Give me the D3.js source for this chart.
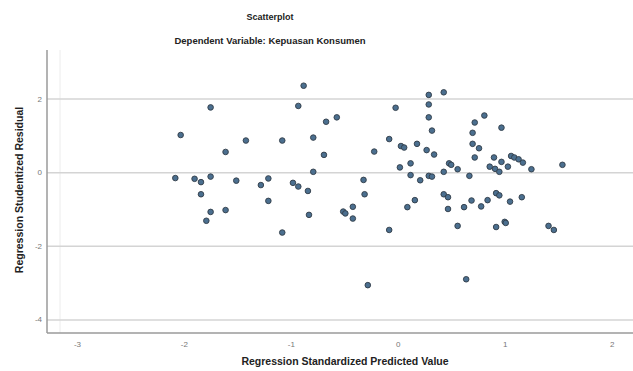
<!DOCTYPE html>
<html>
<head>
<meta charset="utf-8">
<script src="https://cdn.jsdelivr.net/npm/d3@7"></script>
<style>
  body { margin: 0; background: #fff; }
  svg { display: block; font-family: "Liberation Sans", Arial, sans-serif; }
</style>
</head>
<body>
<div id="chart"></div>
<script>
// standardized predicted value (x) and studentized residual (y)
var predicted = [
  -1.75, -2.03, -1.42, -1.08, -1.61, -2.08, -1.90, -1.84, -1.75, -1.51, -1.21, -1.28, -1.84, -1.21, -1.75, -1.61, -1.79, -1.08, -0.98, -0.93, -0.93,
  -0.88, -0.67, -0.57, -0.79, -0.69, -0.79, -0.02, -0.08, 0.03, 0.06, 0.18, -0.22, 0.02, 0.12, 0.12, 0.21, 0.27, 0.29, 0.29, 0.29, -0.32,
  -0.84, -0.83, -0.51, -0.49, -0.42, -0.42, -0.31, -0.28, -0.08, 0.29, 0.16, 0.09,
  0.43, 0.32, 0.34, 0.48, 0.50, 0.56, 0.43, 0.32, 0.67, 0.81, 0.72, 0.70, 0.70, 0.76, 0.72, 0.97, 0.90, 0.86, 0.91, 0.95, 0.97, 1.03, 1.06, 1.09, 1.13, 1.17, 1.25, 1.54,
  0.92, 0.95, 0.84, 0.78, 1.05, 1.16, 0.92, 1.00, 1.01, 1.41, 1.46,
  0.43, 0.47, 0.47, 0.62, 0.69, 0.56, 0.64
];
var residual = [
  1.76, 1.01, 0.86, 0.86, 0.55, -0.16, -0.18, -0.27, -0.12, -0.23, -0.17, -0.35, -0.60, -0.78, -1.08, -1.03, -1.32, -1.64, -0.29, -0.39, 1.80,
  2.35, 1.37, 1.49, 0.94, 0.47, 0.01, 1.75, 0.90, 0.71, 0.67, 0.77, 0.56, 0.13, 0.24, -0.08, -0.22, 0.60, 2.10, 1.84, 1.49, -0.21,
  -0.51, -1.16, -1.07, -1.12, -0.94, -1.26, -0.60, -3.07, -1.57, -0.10, -0.76, -0.95,
  2.17, 1.13, 0.48, 0.24, 0.20, 0.08, 0.01, -0.12, -0.10, 1.54, 1.35, 1.07, 0.77, 0.65, 0.40, 1.21, 0.40, 0.15, 0.09, 0.01, 0.28, 0.15, 0.44, 0.40, 0.35, 0.26, 0.08, 0.20,
  -0.57, -0.63, -0.76, -0.93, -0.80, -0.68, -1.49, -1.35, -1.38, -1.46, -1.57,
  -0.60, -0.68, -1.00, -0.95, -0.77, -1.46, -2.91
];
var xTicks = [-3, -2, -1, 0, 1, 2];
var yTicks = [2, 0, -2, -4];

var titleText = "Scatterplot";
var subtitleText = "Dependent Variable: Kepuasan Konsumen";
var xLabel = "Regression Standardized Predicted Value";
var yLabel = "Regression Studentized Residual";

var W = 633, H = 371;
var margin = {left: 47, right: 633, top: 50, bottom: 333};

var svg = d3.select("#chart").append("svg")
    .attr("width", W)
    .attr("height", H);

var x = d3.scaleLinear().domain([-3.28, 2.2]).range([margin.left, margin.right]);
var y = d3.scaleLinear().domain([-4.37, 3.32]).range([margin.bottom, margin.top]);

var fmt = function(d) { return String(d); };

// faint inner frame line
svg.append("line")
    .attr("x1", 60).attr("x2", 60)
    .attr("y1", margin.top).attr("y2", margin.bottom)
    .attr("stroke", "#ececec").attr("stroke-width", 1);

// horizontal grid
var yAxis = svg.append("g")
    .attr("transform", "translate(" + margin.left + ",0)")
    .call(d3.axisLeft(y).tickValues(yTicks).tickSize(-(margin.right - margin.left)).tickFormat(fmt));
yAxis.select(".domain").remove();
yAxis.selectAll(".tick line").attr("stroke", "#d4d4d4").attr("stroke-width", 1.5);
yAxis.selectAll(".tick text")
    .attr("x", -5)
    .attr("fill", "#777")
    .style("font-size", "8px")
    .style("font-family", "Liberation Sans, Arial, sans-serif");

var xAxis = svg.append("g")
    .attr("transform", "translate(0," + margin.bottom + ")")
    .call(d3.axisBottom(x).tickValues(xTicks).tickSize(0).tickFormat(fmt));
xAxis.select(".domain").remove();
xAxis.selectAll(".tick text")
    .attr("y", 8)
    .attr("fill", "#777")
    .style("font-size", "8px")
    .style("font-family", "Liberation Sans, Arial, sans-serif");

// axis lines
svg.append("line")
    .attr("x1", margin.left).attr("x2", margin.left)
    .attr("y1", margin.top).attr("y2", margin.bottom)
    .attr("stroke", "#9a9a9a").attr("stroke-width", 1.5);
svg.append("line")
    .attr("x1", margin.left).attr("x2", margin.right)
    .attr("y1", margin.bottom).attr("y2", margin.bottom)
    .attr("stroke", "#9a9a9a").attr("stroke-width", 1.5);

// points
svg.append("g")
  .selectAll("circle")
  .data(predicted)
  .enter()
  .append("circle")
    .attr("cx", function(d) { return x(d); })
    .attr("cy", function(d, i) { return y(residual[i]); })
    .attr("r", 2.8)
    .attr("fill", "#4b6f8f")
    .attr("stroke", "#313c47")
    .attr("stroke-width", 0.9);

// titles
svg.append("text")
    .attr("x", 270).attr("y", 20)
    .attr("text-anchor", "middle")
    .style("font-size", "9px").style("font-weight", "bold").attr("fill", "#222")
    .text(titleText);
svg.append("text")
    .attr("x", 270).attr("y", 44)
    .attr("text-anchor", "middle")
    .style("font-size", "9.5px").style("font-weight", "bold").attr("fill", "#222")
    .text(subtitleText);

svg.append("text")
    .attr("x", 345).attr("y", 365)
    .attr("text-anchor", "middle")
    .style("font-size", "10.5px").style("font-weight", "bold").attr("fill", "#222")
    .text(xLabel);
svg.append("text")
    .attr("transform", "translate(23,190) rotate(-90)")
    .attr("text-anchor", "middle")
    .style("font-size", "10.5px").style("font-weight", "bold").attr("fill", "#222")
    .text(yLabel);
</script>
</body>
</html>
